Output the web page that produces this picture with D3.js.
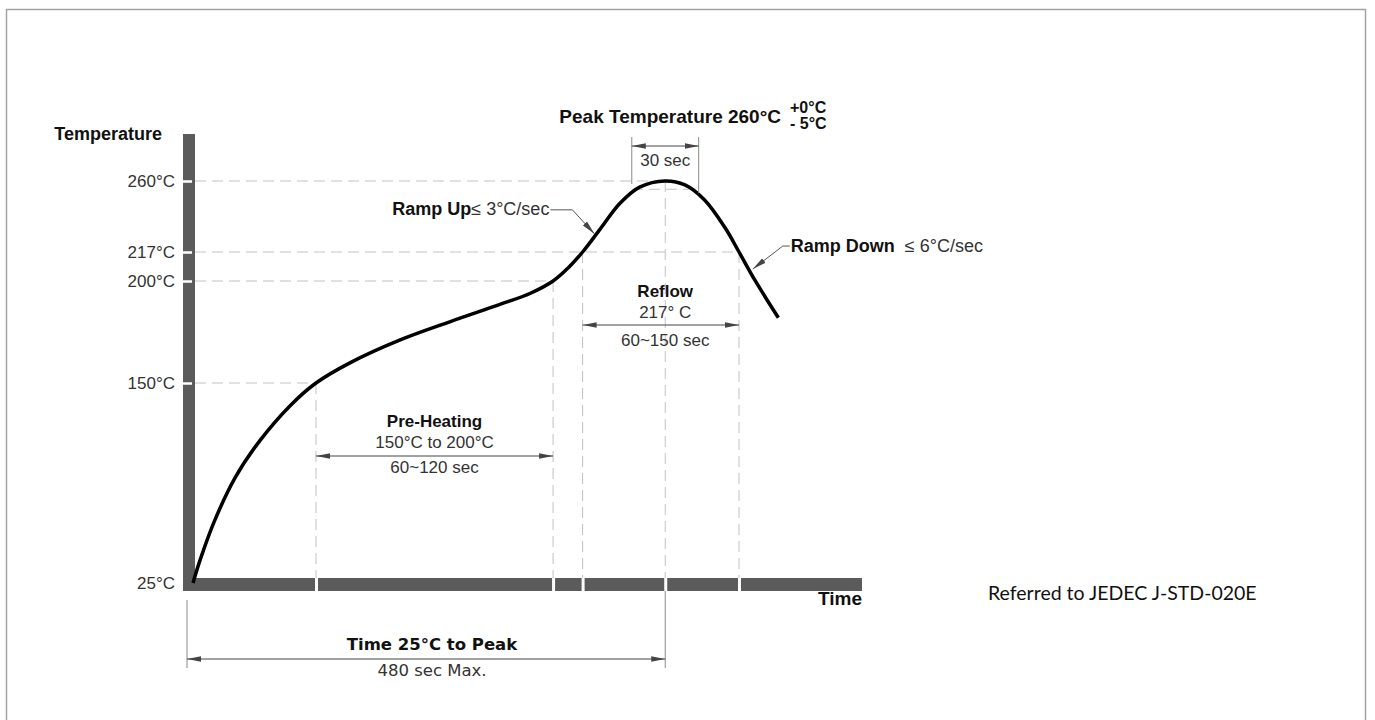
<!DOCTYPE html>
<html>
<head>
<meta charset="utf-8">
<script src="https://cdn.jsdelivr.net/npm/d3@7"></script>
<style>
  body { margin: 0; background: #fff; }
  svg { display: block; }
</style>
</head>
<body>
<script>
// canvas size
var w = 1375;
var h = 720;

// reflow profile: time in seconds, temperature in °C
var profileTime = [0, 7, 22, 43, 68, 99, 125, 160, 210, 261, 312, 343, 366, 381, 396, 414, 434, 454, 480, 500, 520, 541, 555, 571, 595];
var profileTemp = [25, 39, 64, 91, 114, 136, 150, 160, 171, 180, 188.5, 194, 200, 207.5, 217, 231, 246.5, 256.3, 260, 257.6, 248.5, 231.5, 217, 200.6, 182];

// axis ticks
var tempTicks = [25, 150, 200, 217, 260];
var tempTickLabels = ["25°C", "150°C", "200°C", "217°C", "260°C"];

// guide marks on the time axis
var preheatStart = 125, preheatEnd = 366;
var reflowStart = 396, reflowEnd = 555;
var peakTime = 480, peakTemp = 260;
var peakWindow = [446, 514];     // the "30 sec" band
var peakBandTemp = 255;
var timeMarks = [preheatStart, preheatEnd, reflowStart, peakTime, reflowEnd];

// where the ramp leaders point on the curve
var rampUpAt = [408, 228];
var rampDownAt = [569, 207];

var svg = d3.select("body")
    .append("svg")
    .attr("width", w)
    .attr("height", h);

// outer frame
svg.append("rect")
    .attr("x", 6.5).attr("y", 9.5)
    .attr("width", 1359).attr("height", 730)
    .attr("fill", "none")
    .attr("stroke", "#a3a3a3")
    .attr("stroke-width", 1.5);

// scales (the drawing is schematic, so temperature is piecewise)
var x = d3.scaleLinear().domain([0, 680]).range([193, 862]);
var y = d3.scaleLinear().domain([25, 150, 200, 217, 260]).range([583, 383, 281, 252, 181]);

var profile = profileTime.map(function(t, i) { return [t, profileTemp[i]]; });

// arrowhead marker
var defs = svg.append("defs");
defs.append("marker")
    .attr("id", "arr")
    .attr("viewBox", "0 0 14 8")
    .attr("refX", 14).attr("refY", 4)
    .attr("markerWidth", 14).attr("markerHeight", 8)
    .attr("markerUnits", "userSpaceOnUse")
    .attr("orient", "auto-start-reverse")
    .append("path")
    .attr("d", "M0,1.2L14,4L0,6.8Z")
    .attr("fill", "#444");

var guide = svg.append("g")
    .attr("fill", "none")
    .attr("stroke", "#c2c2c2")
    .attr("stroke-width", 1)
    .attr("stroke-dasharray", "11,6");

// horizontal dashed guides from the temperature axis to the curve
var hGuides = [[150, preheatStart], [200, preheatEnd], [217, reflowEnd], [260, peakTime]];
hGuides.forEach(function(g) {
    guide.append("line")
        .attr("x1", 195).attr("x2", x(g[1]))
        .attr("y1", y(g[0])).attr("y2", y(g[0]));
});
guide.append("line")
    .attr("x1", x(peakWindow[0])).attr("x2", x(peakWindow[1]))
    .attr("y1", y(peakBandTemp)).attr("y2", y(peakBandTemp));

// vertical dashed guides from the curve down to the time axis
var vGuides = [[preheatStart, 150], [preheatEnd, 200], [reflowStart, 217], [peakTime, 260], [reflowEnd, 217]];
vGuides.forEach(function(g) {
    guide.append("line")
        .attr("x1", x(g[0])).attr("x2", x(g[0]))
        .attr("y1", y(g[1])).attr("y2", 578);
});

// axis bars
svg.append("rect")
    .attr("x", 183).attr("y", 134)
    .attr("width", 12).attr("height", 457)
    .attr("fill", "#5b5b5b");
svg.append("rect")
    .attr("x", 183).attr("y", 578)
    .attr("width", 679).attr("height", 13)
    .attr("fill", "#5b5b5b");

// temperature axis: white notches + labels
var yAxis = svg.append("g")
    .attr("transform", "translate(192,0)")
    .call(d3.axisLeft(y)
        .tickValues(tempTicks)
        .tickSize(9)
        .tickPadding(8)
        .tickFormat(function(d, i) { return tempTickLabels[i]; }));
yAxis.select(".domain").remove();
yAxis.selectAll(".tick line")
    .attr("stroke", "#fff")
    .attr("stroke-width", 2.5)
    .attr("opacity", function(d) { return d === 25 ? 0 : 1; });
yAxis.selectAll(".tick text")
    .attr("font-family", "'Liberation Sans', Arial, sans-serif")
    .attr("font-size", 17)
    .attr("fill", "#333");

// time axis: white notches only
var xAxis = svg.append("g")
    .attr("transform", "translate(0,578)")
    .call(d3.axisBottom(x)
        .tickValues(timeMarks)
        .tickSize(13)
        .tickFormat(""));
xAxis.select(".domain").remove();
xAxis.selectAll(".tick line")
    .attr("stroke", "#fff")
    .attr("stroke-width", 3);

// profile curve
var line = d3.line()
    .x(function(d) { return x(d[0]); })
    .y(function(d) { return y(d[1]); })
    .curve(d3.curveCatmullRom.alpha(0.5));
svg.append("path")
    .datum(profile)
    .attr("d", line)
    .attr("fill", "none")
    .attr("stroke", "#000")
    .attr("stroke-width", 3.5)
    .attr("stroke-linejoin", "round");

// helpers for annotations
var sans = "'Liberation Sans', Arial, sans-serif";
function label(tx, ty, str, opts) {
    opts = opts || {};
    return svg.append("text")
        .attr("x", tx).attr("y", ty)
        .attr("text-anchor", opts.anchor || "middle")
        .attr("font-family", opts.family || sans)
        .attr("font-size", opts.size || 17)
        .attr("font-weight", opts.bold ? "bold" : "normal")
        .attr("fill", opts.bold ? "#111" : "#333")
        .text(str);
}
function dimLine(x1, x2, yy) {
    svg.append("line")
        .attr("x1", x1).attr("x2", x2)
        .attr("y1", yy).attr("y2", yy)
        .attr("stroke", "#444")
        .attr("stroke-width", 1)
        .attr("marker-start", "url(#arr)")
        .attr("marker-end", "url(#arr)");
}

// axis titles
label(162, 140, "Temperature", { anchor: "end", bold: true, size: 18 });
label(862, 605, "Time", { anchor: "end", bold: true, size: 19 });

// pre-heating span
var phMid = (x(preheatStart) + x(preheatEnd)) / 2;
label(phMid, 427, "Pre-Heating", { bold: true });
label(phMid, 448, "150°C to 200°C");
dimLine(x(preheatStart), x(preheatEnd), 456);
label(phMid, 473, "60~120 sec");

// reflow span
var rfMid = x(peakTime);
label(rfMid, 297, "Reflow", { bold: true });
label(rfMid, 318, "217° C");
dimLine(x(reflowStart), x(reflowEnd), 325);
label(rfMid, 346, "60~150 sec");

// peak window
var thin = svg.append("g").attr("stroke", "#8a8a8a").attr("stroke-width", 1);
peakWindow.forEach(function(t) {
    var onCurve = t < peakTime ? 181 : 190;
    thin.append("line")
        .attr("x1", x(t)).attr("x2", x(t))
        .attr("y1", 137).attr("y2", onCurve + 3);
});
dimLine(x(peakWindow[0]), x(peakWindow[1]), 146);
label((x(peakWindow[0]) + x(peakWindow[1])) / 2, 166, "30 sec");

// peak title
label(781, 123, "Peak Temperature 260°C", { anchor: "end", bold: true, size: 19 });
label(790, 113, "+0°C", { anchor: "start", bold: true, size: 16 });
label(790, 129, "- 5°C", { anchor: "start", bold: true, size: 16 });

// time 25°C to peak
thin.append("line").attr("x1", 187).attr("x2", 187).attr("y1", 600).attr("y2", 668);
thin.append("line").attr("x1", x(peakTime)).attr("x2", x(peakTime)).attr("y1", 591).attr("y2", 668);
dimLine(187, x(peakTime), 659);
label(432, 650, "Time 25°C to Peak", { bold: true, family: "'DejaVu Sans', Verdana, sans-serif", size: 16.5 });
label(432, 676, "480 sec Max.", { family: "'DejaVu Sans', Verdana, sans-serif", size: 16.5 });

// ramp up leader
var upTip = [x(rampUpAt[0]), y(rampUpAt[1])];
var upElbow = [upTip[0] - 22, upTip[1] - 24];
svg.append("path")
    .attr("d", d3.line()([[upElbow[0] - 22, upElbow[1]], upElbow, upTip]))
    .attr("fill", "none")
    .attr("stroke", "#555")
    .attr("stroke-width", 1)
    .attr("marker-end", "url(#arr)");
var up = label(upElbow[0] - 23, upElbow[1] + 5, "", { anchor: "end" });
up.append("tspan").attr("font-weight", "bold").attr("fill", "#111").attr("font-size", 18).text("Ramp Up");
up.append("tspan").attr("font-size", 18).text("≤ 3°C/sec");

// ramp down leader
var dnTip = [x(rampDownAt[0]), y(rampDownAt[1])];
var dnElbow = [dnTip[0] + 30, dnTip[1] - 23];
svg.append("path")
    .attr("d", d3.line()([[dnElbow[0] + 7, dnElbow[1]], dnElbow, dnTip]))
    .attr("fill", "none")
    .attr("stroke", "#555")
    .attr("stroke-width", 1)
    .attr("marker-end", "url(#arr)");
var dn = label(dnElbow[0] + 8, dnElbow[1] + 6, "", { anchor: "start", size: 18 });
dn.append("tspan").attr("font-weight", "bold").attr("fill", "#111").text("Ramp Down");
dn.append("tspan").attr("xml:space", "preserve").text("  ≤ 6°C/sec");

// source note
label(988, 600, "Referred to JEDEC J-STD-020E", { anchor: "start", family: "Lato, 'Open Sans', sans-serif", size: 19.5 })
    .attr("fill", "#111");
</script>
</body>
</html>
